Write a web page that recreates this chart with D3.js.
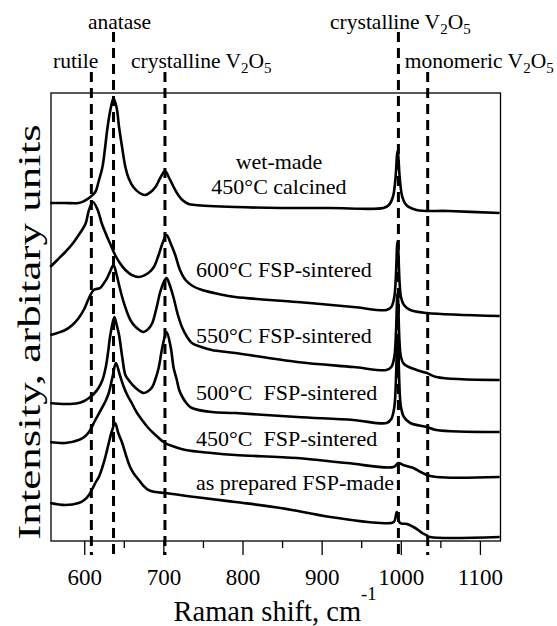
<!DOCTYPE html>
<html lang="en">
<head>
	<title>Raman spectra</title>
	<script src="https://d3js.org/d3.v7.min.js" charset="utf-8"></script>
	<style>
		body { margin: 0; background: #fff; }
		svg { display: block; }
		text { font-family: "Liberation Serif", "Times New Roman", serif; fill: #000; }
	</style>
</head>
<body>
<script>
	// spectra: [Raman shift (cm-1), intensity (arb., offset stacked)]
	var wetMade = [[557,338],[575,338],[593,338],[600,340],[606,343],[614,349],[618,359],[623,374],[626,391],[629,411],[633,431],[637,443],[641,433],[644,414],[648,393],[652,374],[656,363],[662,354],[670,348],[677,346],[684,349],[690,354],[696,363],[702,370],[708,362],[713,354],[718,347],[724,341],[732,337],[740,336],[791,334],[850,333],[911,333],[978,333],[985,336],[990,344],[993,360],[996,390],[999,360],[1002,344],[1007,336],[1020,331],[1060,330],[1125,328]];
	var sintered600 = [[557,274],[566,281],[576,289],[585,297],[593,306],[598,312],[602,318],[606,331],[611,339],[617,331],[622,318],[629,304],[634,295],[639,286],[645,278],[652,271],[660,266],[669,264],[681,268],[688,274],[694,286],[699,298],[704,306],[709,298],[715,286],[721,271],[728,261],[737,255],[749,251],[770,247],[791,244],[869,239],[940,234],[982,231],[988,234],[992,245],[996,300],[1000,245],[1004,236],[1012,231],[1033,228],[1125,225]];
	var sintered550 = [[557,206],[566,208],[576,211],[585,216],[593,223],[600,232],[606,243],[612,251],[620,253],[625,258],[629,263],[633,270],[637,276],[641,266],[644,256],[649,241],[654,229],[659,220],[665,214],[675,209],[681,212],[686,218],[691,232],[696,249],[700,258],[704,263],[708,256],[713,243],[718,227],[724,213],[730,204],[736,198],[748,194],[761,191],[791,188],[869,179],[940,174],[982,171],[988,174],[992,185],[996,248],[1000,185],[1004,177],[1020,171],[1033,168],[1045,164],[1125,161]];
	var sintered500 = [[557,138],[576,137],[593,138],[600,140],[606,143],[612,147],[618,153],[623,161],[627,173],[630,188],[633,206],[638,224],[641,216],[644,206],[648,184],[652,166],[656,161],[665,153],[675,148],[681,150],[686,154],[690,162],[694,173],[699,195],[704,209],[709,195],[713,173],[717,161],[720,151],[724,144],[730,137],[736,133],[761,129],[791,128],[869,124],[940,121],[982,118],[988,122],[992,135],[996,206],[1000,135],[1004,124],[1012,118],[1033,114],[1045,111],[1125,109]];
	var sintered450 = [[557,99],[576,98],[593,101],[600,104],[606,109],[614,121],[623,134],[627,140],[631,148],[636,165],[640,178],[645,166],[650,154],[655,145],[660,138],[666,129],[673,121],[681,113],[690,106],[702,98],[715,94],[728,91],[761,88],[791,86],[869,83],[932,78],[991,74],[997,78],[1003,76],[1016,73],[1025,69],[1033,66],[1045,64],[1125,64]];
	var asPrepared = [[557,38],[576,36],[593,38],[600,41],[606,46],[614,58],[619,65],[623,74],[627,85],[631,98],[635,110],[639,118],[643,108],[648,98],[653,85],[658,74],[663,67],[669,61],[675,55],[681,51],[690,49],[702,48],[740,44],[791,39],[848,33],[911,24],[974,18],[991,19],[995,29],[999,18],[1008,17],[1016,14],[1022,11],[1027,8],[1032,6],[1037,4],[1125,4]];

	var spectra = [wetMade, sintered600, sintered550, sintered500, sintered450, asPrepared];
	var curveNames = [["wet-made", "450\u00B0C calcined"], ["600\u00B0C FSP-sintered"], ["550\u00B0C FSP-sintered"],
		["500\u00B0C\u00A0 FSP-sintered"], ["450\u00B0C\u00A0 FSP-sintered"], ["as prepared FSP-made"]];

	// reference band positions and their assignments
	var bandShifts = [609, 637, 702, 997, 1034];
	var bandNames = ["rutile", "anatase", "crystalline V2O5", "crystalline V2O5", "monomeric V2O5"];
	var bandRow = [2, 1, 2, 1, 2];

	var majorTicks = [600, 700, 800, 900, 1000, 1100];
	var minorTicks = [650, 750, 850, 950, 1050];

	var width = 557, height = 626;
	var plotLeft = 51, plotTop = 93, plotRight = 500.5, plotBottom = 541;

	var svg = d3.select("body").append("svg")
		.attr("width", width)
		.attr("height", height);

	var x = d3.scaleLinear().domain([558, 1126]).range([plotLeft, plotRight]);
	var y = d3.scaleLinear().domain([0, 448]).range([plotBottom, plotTop]);

	// frame
	svg.append("rect")
		.attr("x", plotLeft).attr("y", plotTop)
		.attr("width", plotRight - plotLeft).attr("height", plotBottom - plotTop)
		.attr("fill", "none").attr("stroke", "#000").attr("stroke-width", 1.3);

	// x axis
	var xAxis = svg.append("g")
		.attr("transform", "translate(0," + plotBottom + ")")
		.call(d3.axisBottom(x).tickValues(majorTicks).tickFormat(d3.format("d"))
			.tickSize(14).tickSizeOuter(0).tickPadding(14));
	xAxis.select(".domain").remove();
	xAxis.selectAll("line").attr("stroke-width", 1.3);
	xAxis.selectAll("text")
		.attr("font-family", "'Liberation Serif', serif")
		.attr("font-size", 23);

	var xMinor = svg.append("g")
		.attr("transform", "translate(0," + plotBottom + ")")
		.call(d3.axisBottom(x).tickValues(minorTicks).tickSize(7).tickFormat(""));
	xMinor.select(".domain").remove();
	xMinor.selectAll("line").attr("stroke-width", 1.3);

	// spectra
	var line = d3.line()
		.x(function(d) { return x(d[0]); })
		.y(function(d) { return y(d[1]); })
		.curve(d3.curveCatmullRom.alpha(0.5));

	svg.append("g").selectAll("path")
		.data(spectra)
		.enter().append("path")
		.attr("d", line)
		.attr("fill", "none")
		.attr("stroke", "#000")
		.attr("stroke-width", 2.6)
		.attr("stroke-linejoin", "round");

	// dashed band markers
	var rowTop = {1: 32, 2: 72};
	svg.append("g").selectAll("line")
		.data(bandShifts)
		.enter().append("line")
		.attr("x1", function(d) { return x(d); })
		.attr("x2", function(d) { return x(d); })
		.attr("y1", function(d, i) { return rowTop[bandRow[i]]; })
		.attr("y2", plotBottom + 14)
		.attr("stroke", "#000")
		.attr("stroke-width", 3)
		.attr("stroke-dasharray", "10,6");

	// band labels (V2O5 gets subscripts)
	var labelPlace = [
		{anchor: "end", dx: 7},
		{anchor: "middle", dx: 6},
		{anchor: "start", dx: -34},
		{anchor: "middle", dx: 2},
		{anchor: "start", dx: -23}
	];
	var rowBase = {1: 29, 2: 67.5};

	function chem(sel, name) {
		var parts = name.split(" V2O5");
		sel.append("tspan").text(parts[0] + (parts.length > 1 ? " V" : ""));
		if (parts.length > 1) {
			sel.append("tspan").attr("dy", 5).attr("font-size", "70%").text("2");
			sel.append("tspan").attr("dy", -5).text("O");
			sel.append("tspan").attr("dy", 5).attr("font-size", "70%").text("5");
		}
	}

	bandNames.forEach(function(name, i) {
		var t = svg.append("text")
			.attr("x", x(bandShifts[i]) + labelPlace[i].dx)
			.attr("y", rowBase[bandRow[i]])
			.attr("text-anchor", labelPlace[i].anchor)
			.attr("font-size", 21.5);
		chem(t, name);
	});

	// curve labels
	var namePlace = [
		{x: 279, y: 169, anchor: "middle"},
		{x: 196, y: 277, anchor: "start"},
		{x: 196, y: 343, anchor: "start"},
		{x: 196, y: 400, anchor: "start"},
		{x: 196, y: 446, anchor: "start"},
		{x: 196, y: 490, anchor: "start"}
	];
	curveNames.forEach(function(lines, i) {
		var t = svg.append("text")
			.attr("x", namePlace[i].x)
			.attr("y", namePlace[i].y)
			.attr("text-anchor", namePlace[i].anchor)
			.attr("font-size", 22);
		lines.forEach(function(s, j) {
			t.append("tspan")
				.attr("x", namePlace[i].x)
				.attr("dy", j ? 25 : 0)
				.text(s);
		});
	});

	// axis titles
	var xt = svg.append("text")
		.attr("x", 275).attr("y", 621)
		.attr("text-anchor", "middle")
		.attr("font-size", 28.5);
	xt.append("tspan").text("Raman shift, cm");
	xt.append("tspan").attr("dy", -21).attr("font-size", "65%").text("-1");

	svg.append("text")
		.attr("transform", "translate(40,332) rotate(-90) scale(1.45,1)")
		.attr("text-anchor", "middle")
		.attr("font-size", 31)
		.text("Intensity, arbitary units");
</script>
</body>
</html>
